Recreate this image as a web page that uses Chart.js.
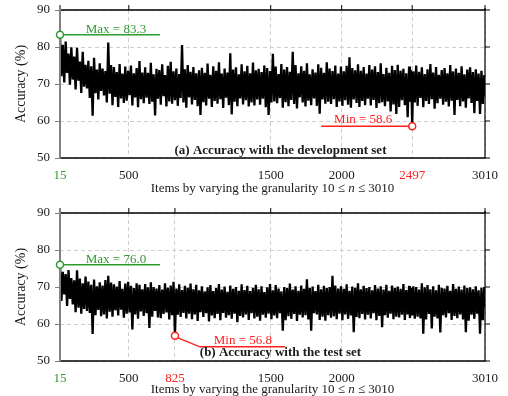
<!DOCTYPE html>
<html><head><meta charset="utf-8">
<script src="https://cdn.jsdelivr.net/npm/chart.js@4/dist/chart.umd.min.js"></script>
<style>
html,body{margin:0;padding:0;background:#fff;overflow:hidden}
.box{position:relative;width:508px;height:198px;overflow:hidden}
canvas{display:block}
#c1{margin-top:-3px}
</style></head><body>
<div class="box"><canvas id="c1" width="508" height="201"></canvas></div>
<div class="box"><canvas id="c2" width="508" height="198"></canvas></div>
<script>
// granularity n (sampled)
const items = [
15,25,35,45,55,65,75,85,95,105,
115,125,135,145,155,165,175,185,195,205,
215,225,235,245,255,265,275,285,295,305,
315,325,335,345,355,365,375,385,395,405,
415,425,435,445,455,465,475,485,495,505,
515,525,535,545,555,565,575,585,595,605,
615,625,635,645,655,665,675,685,695,705,
715,725,735,745,755,765,775,785,795,805,
815,825,835,845,855,865,875,885,895,905,
915,925,935,945,955,965,975,985,995,1005,
1015,1025,1035,1045,1055,1065,1075,1085,1095,1105,
1115,1125,1135,1145,1155,1165,1175,1185,1195,1205,
1215,1225,1235,1245,1255,1265,1275,1285,1295,1305,
1315,1325,1335,1345,1355,1365,1375,1385,1395,1405,
1415,1425,1435,1445,1455,1465,1475,1485,1495,1505,
1515,1525,1535,1545,1555,1565,1575,1585,1595,1605,
1615,1625,1635,1645,1655,1665,1675,1685,1695,1705,
1715,1725,1735,1745,1755,1765,1775,1785,1795,1805,
1815,1825,1835,1845,1855,1865,1875,1885,1895,1905,
1915,1925,1935,1945,1955,1965,1975,1985,1995,2005,
2015,2025,2035,2045,2055,2065,2075,2085,2095,2105,
2115,2125,2135,2145,2155,2165,2175,2185,2195,2205,
2215,2225,2235,2245,2255,2265,2275,2285,2295,2305,
2315,2325,2335,2345,2355,2365,2375,2385,2395,2405,
2415,2425,2435,2445,2455,2465,2475,2481,2489,2497,2505,
2515,2525,2535,2545,2555,2565,2575,2585,2595,2605,
2615,2625,2635,2645,2655,2665,2675,2685,2695,2705,
2715,2725,2735,2745,2755,2765,2775,2785,2795,2805,
2815,2825,2835,2845,2855,2865,2875,2885,2895,2905,
2915,2925,2935,2945,2955,2965,2975,2985,2995,3005,
3010];

// (a) accuracy with the development set (%)
const devAccuracy = [
83.3,72.1,80.6,70.4,81.5,73.0,78.2,69.8,79.9,71.2,
77.4,68.5,79.8,70.9,76.1,67.6,78.7,69.3,75.2,68.8,
76.3,66.2,74.8,61.4,77.1,67.5,73.9,65.8,75.6,68.1,
74.2,66.9,73.5,65.0,81.2,67.4,75.1,64.3,74.6,66.5,
73.2,63.8,75.4,66.1,72.8,64.9,74.7,65.5,73.6,67.0,
75.0,64.2,72.9,66.4,74.3,63.7,76.2,65.9,73.1,64.8,
74.5,66.3,73.0,64.6,75.7,65.2,72.6,61.5,74.1,66.0,
73.8,64.4,75.3,66.7,72.4,63.9,74.9,65.3,76.0,64.7,
73.4,65.6,74.2,64.1,72.7,66.2,80.5,65.0,74.0,63.6,
75.1,66.4,73.3,64.5,74.6,65.7,72.9,64.0,73.7,61.6,
74.4,65.1,73.0,64.2,75.5,66.0,72.5,63.8,74.8,65.4,
73.6,64.7,75.9,65.9,72.8,63.5,74.2,66.3,73.1,64.3,
78.3,61.8,73.9,65.2,74.5,64.0,72.6,66.1,75.3,64.5,
73.4,65.6,74.9,63.9,72.9,65.0,75.8,64.2,73.7,65.8,
74.1,64.4,73.2,66.0,75.0,63.7,74.3,61.6,73.5,65.0,
78.2,65.3,74.7,64.8,72.7,66.2,75.4,63.6,73.9,65.1,
74.6,64.0,73.3,65.7,78.7,64.6,75.1,63.4,72.9,66.4,
74.8,65.0,73.6,63.9,75.6,65.5,72.6,64.3,74.0,66.1,
73.1,64.1,75.3,62.0,74.4,65.8,73.0,64.7,75.9,65.2,
74.2,64.6,73.5,65.9,75.0,63.8,72.8,65.3,74.7,64.1,
73.4,65.6,74.9,64.4,77.2,63.6,74.3,65.8,73.7,64.9,
75.3,63.8,73.6,65.4,74.6,64.3,72.8,66.0,75.1,64.2,
73.9,65.7,74.8,63.5,73.2,64.8,75.6,65.1,72.7,64.0,
74.4,65.3,73.0,62.6,74.9,64.5,73.8,61.9,75.2,63.8,
73.6,65.6,74.1,64.3,72.9,61.0,74.7,65.2,73.8,58.6,73.4,
65.0,75.0,64.1,73.3,66.2,74.5,63.7,72.7,65.4,74.0,
64.6,75.4,65.9,73.1,63.3,74.6,64.8,72.5,66.0,73.8,
64.4,74.3,65.2,72.9,63.9,75.1,65.5,73.4,61.6,74.2,
65.7,73.0,64.0,74.8,65.3,72.6,63.6,73.9,66.1,74.5,
64.9,73.2,62.1,74.0,65.4,72.8,61.9,73.6,64.6,72.4,
66.8];

// (b) accuracy with the test set (%)
const testAccuracy = [
76.0,66.2,74.1,68.0,73.5,64.9,74.6,66.8,72.4,65.3,
71.8,63.2,74.5,64.4,72.3,62.8,71.0,64.1,72.8,63.5,
71.5,63.0,70.6,57.3,72.0,62.4,70.2,63.8,71.3,62.1,
70.4,62.6,71.9,61.5,73.0,63.3,71.2,62.0,70.7,63.7,
70.1,62.3,71.6,63.9,69.5,61.7,70.9,62.8,71.4,63.1,
70.3,58.5,69.7,62.6,71.0,61.4,70.6,63.4,69.4,62.2,
70.8,62.9,69.9,58.9,71.3,62.0,70.0,63.5,69.6,61.8,
70.5,61.6,69.3,62.7,71.0,63.1,69.8,61.2,70.4,62.4,
71.4,56.8,69.6,62.5,70.7,61.9,69.2,63.0,70.3,61.5,
69.8,62.8,70.9,61.3,69.4,62.6,70.6,60.8,69.1,63.2,
70.2,61.9,68.8,62.9,69.9,60.7,70.5,62.3,68.9,61.6,
69.7,62.7,70.8,61.0,69.3,63.0,70.1,61.7,68.7,62.4,
70.4,61.4,69.5,62.8,70.0,60.5,69.0,62.2,70.7,61.8,
69.2,62.6,70.3,61.1,68.9,62.9,69.8,61.5,70.6,62.0,
69.4,60.9,70.2,62.5,68.6,61.7,69.9,62.8,70.8,61.3,
69.1,62.3,70.5,61.6,69.6,62.9,68.8,58.2,70.0,61.0,
69.7,62.1,70.9,61.4,69.3,62.7,70.2,60.8,69.0,62.5,
70.4,61.8,69.5,62.4,72.1,61.2,69.8,58.2,70.1,62.9,
68.9,62.6,70.6,61.1,69.4,62.0,70.3,60.9,69.7,62.4,
70.0,61.7,73.0,62.1,70.4,61.3,69.6,62.8,70.2,61.0,
69.5,62.6,70.7,61.4,69.0,62.3,70.1,57.8,69.8,61.9,
71.0,61.6,69.4,62.7,70.3,61.2,69.7,62.5,70.0,61.5,
69.1,62.9,70.5,61.0,69.6,62.2,70.2,59.1,69.3,62.4,
70.6,61.7,69.0,62.8,70.4,61.3,69.8,62.0,70.1,61.8,
69.5,62.5,70.8,61.1,69.2,62.6,70.3,61.6,69.7,62.3,70.2,
61.4,70.0,62.0,69.3,61.5,71.0,57.4,69.9,61.2,70.5,
62.7,69.4,58.8,70.2,62.0,69.1,61.5,70.6,57.7,69.8,
62.4,69.6,61.8,70.3,62.9,69.0,61.1,70.8,62.2,69.5,
61.6,70.1,62.6,69.3,61.2,70.4,57.8,69.7,60.9,69.9,
62.5,69.4,61.4,70.2,62.8,69.1,57.4,69.8,61.0,70.0,
64.8];

const yTickValues = [50, 60, 70, 80, 90];
const devXTicks = [15, 500, 1500, 2000, 2497, 3010];
const testXTicks = [15, 500, 825, 1500, 2000, 3010];
const devMax = {x: 15, y: 83.3, label: 'Max = 83.3'};
const devMin = {x: 2497, y: 58.6, label: 'Min = 58.6'};
const testMax = {x: 15, y: 76.0, label: 'Max = 76.0'};
const testMin = {x: 825, y: 56.8, label: 'Min = 56.8'};
const devCaption = '(a) Accuracy with the development set';
const testCaption = '(b) Accuracy with the test set';

const GREEN = '#2f9a2f', RED = '#ff1f1f', TXT = '#1a1a1a', SERIF = '"Liberation Serif", "DejaVu Serif", serif';

const frameAndNotes = {
  id: 'frameAndNotes',
  afterDatasetsDraw(chart, args, o) {
    const ctx = chart.ctx;
    const {left: L, right: R, top: T, bottom: B} = chart.chartArea;
    const xs = chart.scales.x, ys = chart.scales.y;
    ctx.save();
    // frame
    ctx.lineCap = 'butt';
    ctx.strokeStyle = '#000'; ctx.lineWidth = 1.5;
    ctx.beginPath(); ctx.moveTo(L, T); ctx.lineTo(R, T); ctx.stroke();
    ctx.beginPath(); ctx.moveTo(L, B); ctx.lineTo(R + 0.75, B); ctx.stroke();
    ctx.lineWidth = 1.2;
    ctx.beginPath(); ctx.moveTo(R, T - 2); ctx.lineTo(R, B); ctx.stroke();
    ctx.lineWidth = 1;
    o.xTicks.forEach(v => { const px = xs.getPixelForValue(v); if (px > L + 2) { ctx.beginPath(); ctx.moveTo(px, T); ctx.lineTo(px, T - 5); ctx.stroke(); } });
    yTickValues.forEach(v => { const py = ys.getPixelForValue(v); ctx.beginPath(); ctx.moveTo(R, py); ctx.lineTo(R + 5, py); ctx.stroke(); });
    ctx.strokeStyle = '#808080'; ctx.lineWidth = 2;
    ctx.beginPath(); ctx.moveTo(L, T - 5); ctx.lineTo(L, B + 0.75); ctx.stroke();

    // max annotation
    const mx = xs.getPixelForValue(o.maxPt.x), my = ys.getPixelForValue(o.maxPt.y);
    ctx.strokeStyle = GREEN; ctx.lineWidth = 1.5;
    ctx.beginPath(); ctx.moveTo(mx + 3.5, my); ctx.lineTo(mx + 100, my); ctx.stroke();
    ctx.fillStyle = '#fff';
    ctx.beginPath(); ctx.arc(mx, my, 3.5, 0, Math.PI * 2); ctx.fill(); ctx.stroke();
    ctx.fillStyle = GREEN; ctx.font = '13px ' + SERIF; ctx.textAlign = 'center'; ctx.textBaseline = 'alphabetic';
    ctx.fillText(o.maxPt.label, mx + 56, my - 2);

    // min annotation
    const nx = xs.getPixelForValue(o.minPt.x), ny = ys.getPixelForValue(o.minPt.y);
    ctx.strokeStyle = RED; ctx.lineWidth = 1.5;
    if (o.minStyle === 'left') {
      ctx.beginPath(); ctx.moveTo(nx - 3.5, ny); ctx.lineTo(nx - 91, ny); ctx.stroke();
      ctx.fillStyle = RED; ctx.fillText(o.minPt.label, nx - 49, ny - 3);
    } else {
      ctx.beginPath(); ctx.moveTo(nx + 3, ny + 2); ctx.lineTo(nx + 25, ny + 11); ctx.lineTo(nx + 110, ny + 11); ctx.stroke();
      ctx.fillStyle = RED; ctx.fillText(o.minPt.label, nx + 68, ny + 8);
    }
    ctx.fillStyle = '#fff';
    ctx.beginPath(); ctx.arc(nx, ny, 3.5, 0, Math.PI * 2); ctx.fill(); ctx.stroke();

    // caption
    ctx.fillStyle = TXT; ctx.font = 'bold 13px ' + SERIF; ctx.textAlign = 'center';
    ctx.fillText(o.caption, (L + R) / 2 + 8, B - o.capOff);

    // y title
    ctx.save();
    ctx.translate(21, (T + B) / 2);
    ctx.rotate(-Math.PI / 2);
    ctx.font = '14px ' + SERIF; ctx.textBaseline = 'middle';
    ctx.fillText('Accuracy (%)', 0, 0);
    ctx.restore();

    // x title with italic n
    const parts = [['Items by varying the granularity 10 \u2264 ', '13px ' + SERIF], ['n', 'italic 13px ' + SERIF], [' \u2264 3010', '13px ' + SERIF]];
    let w = 0; parts.forEach(p => { ctx.font = p[1]; w += ctx.measureText(p[0]).width; });
    let cx = (L + R) / 2 - w / 2;
    ctx.textAlign = 'left'; ctx.textBaseline = 'alphabetic';
    parts.forEach(p => { ctx.font = p[1]; ctx.fillText(p[0], cx, o.titleY); cx += ctx.measureText(p[0]).width; });
    ctx.restore();
  }
};

function makeChart(id, values, xTicks, maxPt, minPt, minStyle, caption, padTop, xHeight, titleY, capOff) {
  return new Chart(document.getElementById(id), {
    type: 'line',
    data: {
      datasets: [{
        data: items.map((n, i) => ({x: n, y: values[i]})),
        borderColor: '#000', borderWidth: 2.3, pointRadius: 0, tension: 0, fill: false,
        borderJoinStyle: 'bevel'
      }]
    },
    options: {
      responsive: false, animation: false, devicePixelRatio: 1,
      layout: {padding: {top: padTop, right: 22, left: 0, bottom: 0}},
      plugins: {
        legend: {display: false}, tooltip: {enabled: false},
        frameAndNotes: {xTicks, maxPt, minPt, minStyle, caption, titleY, capOff}
      },
      scales: {
        x: {
          type: 'linear', min: 15, max: 3010,
          afterBuildTicks: s => { s.ticks = xTicks.map(v => ({value: v})); },
          afterFit: s => { s.height = xHeight; },
          grid: {color: '#cfcfcf', lineWidth: 1, drawTicks: false},
          border: {display: false, dash: [4, 3]},
          ticks: {
            autoSkip: false, maxRotation: 0, padding: 10,
            font: {family: SERIF, size: 13},
            color: c => c.tick && c.tick.value === maxPt.x ? GREEN : (c.tick && c.tick.value === minPt.x ? RED : TXT),
            callback: v => String(v)
          }
        },
        y: {
          min: 50, max: 90,
          afterBuildTicks: s => { s.ticks = yTickValues.map(v => ({value: v})); },
          afterFit: s => { s.width = 60; },
          grid: {color: '#cfcfcf', lineWidth: 1, drawTicks: true, tickLength: 5, tickColor: '#808080', tickWidth: 1},
          border: {display: false, dash: [4, 3]},
          ticks: {padding: 5, font: {family: SERIF, size: 13}, color: TXT, callback: v => String(v)}
        }
      }
    },
    plugins: [frameAndNotes]
  });
}

makeChart('c1', devAccuracy, devXTicks, devMax, devMin, 'left', devCaption, 13, 40, 195, 4);
makeChart('c2', testAccuracy, testXTicks, testMax, testMin, 'bent', testCaption, 15, 35, 195, 5);
</script>
</body></html>
